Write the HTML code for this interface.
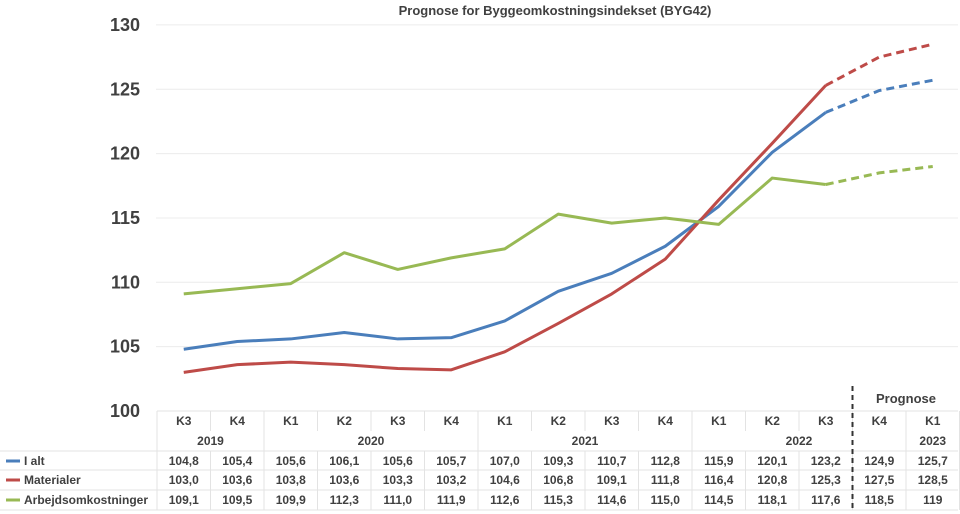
<!DOCTYPE html>
<html><head><meta charset="utf-8"><style>
body{margin:0;background:#fff;}
svg{display:block;font-family:"Liberation Sans",Arial,sans-serif;}
</style></head><body>
<svg id="chart" width="960" height="514" viewBox="0 0 960 514">
<text x="555" y="15" text-anchor="middle" font-size="13" font-weight="bold" fill="#404040">Prognose for Byggeomkostningsindekset (BYG42)</text>
<g id="grid"></g><g id="yt"></g><g id="tbl"></g><g id="lines"></g>
</svg>
<script>
const quarters=["K3","K4","K1","K2","K3","K4","K1","K2","K3","K4","K1","K2","K3","K4","K1"];
const years=[["2019",0,2],["2020",2,6],["2021",6,10],["2022",10,14],["2023",14,15]];
const seriesNames=["I alt","Materialer","Arbejdsomkostninger"];
const colors=["#4a7ebb","#be4b48","#98b954"];
const iAlt=[104.8,105.4,105.6,106.1,105.6,105.7,107.0,109.3,110.7,112.8,115.9,120.1,123.2,124.9,125.7];
const materialer=[103.0,103.6,103.8,103.6,103.3,103.2,104.6,106.8,109.1,111.8,116.4,120.8,125.3,127.5,128.5];
const arbejd=[109.1,109.5,109.9,112.3,111.0,111.9,112.6,115.3,114.6,115.0,114.5,118.1,117.6,118.5,119];
const yTicks=[100,105,110,115,120,125,130];
const forecastStart=12;
const NS="http://www.w3.org/2000/svg";
const x0=157,cw=53.5;
const xc=i=>x0+cw*(i+0.5);
const y=v=>411-(v-100)*12.87;
function mk(p,t,a,txt){const e=document.createElementNS(NS,t);for(const k in a)e.setAttribute(k,a[k]);if(txt!==undefined)e.textContent=txt;p.appendChild(e);return e;}
const fmt=v=>Number.isInteger(v)&&v===119?"119":v.toFixed(1).replace(".",",");
const G=document.getElementById("grid"),YT=document.getElementById("yt"),T=document.getElementById("tbl"),L=document.getElementById("lines");
yTicks.forEach(v=>{
 if(v>100){const gl=mk(G,"line",{x1:156,x2:958,y1:y(v),y2:y(v),stroke:"#ececec","stroke-width":1});
 
 }
 const t=mk(YT,"text",{x:140,y:y(v)+6,"text-anchor":"end","font-size":18,"font-weight":"bold",fill:"#404040"},v);
 
 
});
const rowsY=[411,451,470,490,510];
rowsY.forEach((yy,k)=>{const l=mk(T,"line",{x1:k==0?157:0,x2:958,y1:yy,y2:yy,stroke:"#e3e3e3"});
 
 });
const yearBounds=new Set([0,2,6,10,14,15]);
for(let i=0;i<=quarters.length;i++){const xx=x0+cw*i;
 const l=mk(T,"line",{x1:xx,x2:xx,y1:411,y2:431,stroke:"#e3e3e3"});
 
 
 if(yearBounds.has(i)){const l2=mk(T,"line",{x1:xx,x2:xx,y1:431,y2:451,stroke:"#e3e3e3"});
  
  }
 const l3=mk(T,"line",{x1:xx,x2:xx,y1:451,y2:510,stroke:"#e3e3e3"});
 
 }
quarters.forEach((q,i)=>{const t=mk(T,"text",{x:xc(i),y:425,"text-anchor":"middle","font-size":12,"font-weight":"bold",fill:"#404040"},q);
 
 });
years.forEach(([yr,a,b])=>{const t=mk(T,"text",{x:x0+cw*(a+b)/2,y:445,"text-anchor":"middle","font-size":12,"font-weight":"bold",fill:"#404040"},yr);
 
 });
const pt=mk(T,"text",{x:x0+cw*14,y:403,"text-anchor":"middle","font-size":13,"font-weight":"bold",fill:"#404040"},"Prognose");


const sep=mk(T,"line",{x1:x0+cw*13,x2:x0+cw*13,y1:386,y2:510,stroke:"#333","stroke-width":2,"stroke-dasharray":"5,4"});


const data=[iAlt,materialer,arbejd];
data.forEach((arr,s)=>{
 const ry=rowsY[s+1]+14;
 const sw=mk(T,"line",{x1:6,x2:20,y1:ry-4,y2:ry-4,stroke:colors[s],"stroke-width":3});
 
 
 const ln=mk(T,"text",{x:24,y:ry,"font-size":12,"font-weight":"bold",fill:"#404040"},seriesNames[s]);
 
 
 arr.forEach((v,i)=>{const t=mk(T,"text",{x:xc(i),y:ry,"text-anchor":"middle","font-size":12,"font-weight":"bold",fill:"#404040"},fmt(v));
  
  });
 const solid=arr.slice(0,forecastStart+1).map((v,i)=>xc(i)+","+y(v)).join(" ");
 const dash=arr.slice(forecastStart).map((v,i)=>xc(i+forecastStart)+","+y(v)).join(" ");
 const p1=mk(L,"polyline",{points:solid,fill:"none",stroke:colors[s],"stroke-width":3,"stroke-linejoin":"round"});
 
 
 const p2=mk(L,"polyline",{points:dash,fill:"none",stroke:colors[s],"stroke-width":3,"stroke-dasharray":"8,5"});
 
 
});
</script>
</body></html>
